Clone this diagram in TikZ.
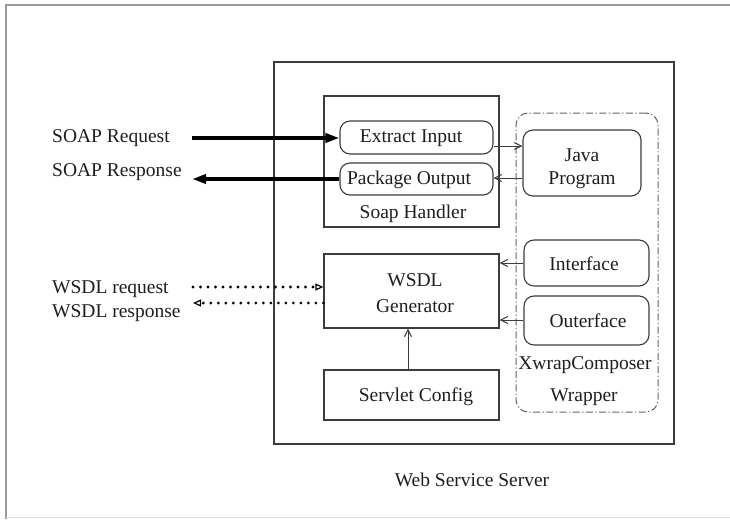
\documentclass[tikz,border=0pt]{standalone}
\usepackage{fontspec}
\setmainfont{Liberation Serif}
\usetikzlibrary{arrows.meta,calc}
\definecolor{ink}{HTML}{1E1E1E}
\definecolor{edge}{HTML}{3C3C3C}
\begin{document}
\begin{tikzpicture}[x=1pt,y=-1pt,
  every node/.style={font=\fontsize{19.5}{23}\selectfont, text=ink, align=center},
  plainbox/.style={draw=edge, line width=1.3pt, minimum width=#1, inner sep=0pt},
  roundbox/.style={draw=edge, line width=1.1pt, rounded corners=10pt, inner sep=0pt},
  label/.style={anchor=west, inner sep=0pt, align=left},
  thinarrow/.style={draw=edge, line width=1pt, -{Straight Barb[length=7pt,width=7pt,line width=1pt]}},
  fatarrow/.style={draw=black, line width=4pt, -{Triangle[length=14pt,width=9pt]}},
  dotarrow/.style={draw=black, line width=3.2pt, dash pattern=on 0pt off 7.5pt, line cap=round,
     -{Triangle[open,length=8pt,width=7pt,line width=1.2pt]}}
]
% page frame
\useasboundingbox (0,0) rectangle (730,519);
\draw[draw=gray!80, line width=2pt] (6,519) -- (6,5) -- (730,5);
\draw[draw=gray!25, line width=1pt] (6,517.5) -- (730,517.5);

% server enclosure
\node[plainbox=400pt, minimum height=382pt] (server) at (474,253) {};
\node (serverlbl) at (472,480) {Web Service Server};

% soap handler
\node[plainbox=175pt, minimum height=131pt] (soap) at (411.5,161.5) {};
\node (soaplbl) at (413,214) {Soap Handler};
\node[roundbox, minimum width=153pt, minimum height=33pt] (extract) at (416.5,137.5) {};
\node (extractlbl) at (411,138) {Extract Input};
\node[roundbox, minimum width=153pt, minimum height=32pt] (package) at (416.5,179) {};
\node (packagelbl) at (409,179.5) {Package Output};

% wrapper
\node[draw=edge!80, line width=1pt, rounded corners=12pt,
      dash pattern=on 7pt off 2.5pt on 1.2pt off 2.5pt,
      minimum width=142pt, minimum height=299pt, inner sep=0pt] (wrapper) at (587,262.5) {};
\node[roundbox, minimum width=118pt, minimum height=66pt] (java) at (582,163) {};
\node (javalbl) at (582,169) {Java\\[0pt]Program};
\node[roundbox, minimum width=125pt, minimum height=46pt] (interface) at (586.5,263) {};
\node (interfacelbl) at (584,264) {Interface};
\node[roundbox, minimum width=125pt, minimum height=49pt] (outerface) at (586.5,320.5) {};
\node (outerfacelbl) at (588,321) {Outerface};
\node (xwraplbl) at (585,365) {XwrapComposer};
\node (wrapperlbl) at (584,397) {Wrapper};

% wsdl side
\node[plainbox=175pt, minimum height=74pt] (wsdl) at (411.5,291) {};
\node (wsdllbl) at (415,293.5) {WSDL\\[3pt]Generator};
\node[plainbox=175pt, minimum height=50pt] (servlet) at (411.5,395) {};
\node (servletlbl) at (416,397) {Servlet Config};

% external labels
\node[label] (soapreq) at (52,138) {SOAP Request};
\node[label] (soapresp) at (52,172) {SOAP Response};
\node[label] (wsdlreq) at (52,289) {WSDL request};
\node[label] (wsdlresp) at (52,313) {WSDL response};

% free ends of the outside connectors
\coordinate (reqin) at (192,138);
\coordinate (respout) at (192,179);
\coordinate (wreqin) at (193,287);
\coordinate (wrespout) at (193,303);

% SOAP traffic
\draw[fatarrow] (reqin) -- (extract.west |- reqin);
\draw[fatarrow] (package.west |- respout) -- (respout);

% WSDL traffic
\draw[dotarrow] (wreqin) -- (wsdl.west |- wreqin);
\draw[dotarrow] (wsdl.west |- wrespout) -- (wrespout);

% internal connectors
\draw[thinarrow] ($(extract.east)+(0,8.5)$) -- ($(java.west |- extract.east)+(0,8.5)$);
\draw[thinarrow] ($(java.west)+(0,15)$) -- ($(package.east |- java.west)+(0,15)$);
\draw[thinarrow] (interface.west) -- (wsdl.east |- interface.west);
\draw[thinarrow] ($(outerface.west)+(0,-0.5)$) -- ($(wsdl.east |- outerface.west)+(0,-0.5)$);
\draw[thinarrow] ($(servlet.north)+(-3.5,0)$) -- ($(wsdl.south)+(-3.5,0)$);
\end{tikzpicture}
\end{document}
